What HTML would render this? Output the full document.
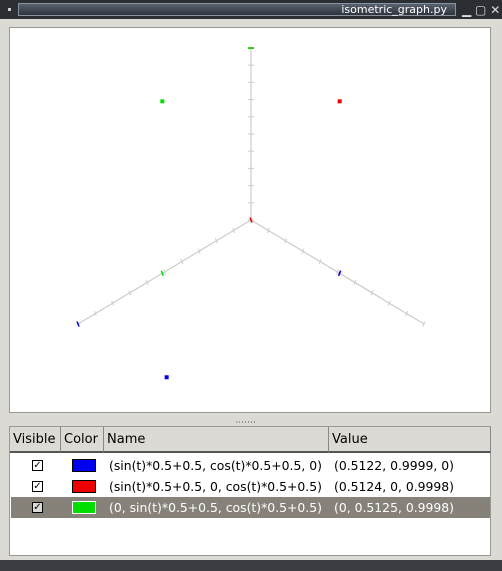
<!DOCTYPE html>
<html><head><meta charset="utf-8"><style>
body{margin:0;width:502px;height:571px;overflow:hidden;background:#dcdad5;font-family:"DejaVu Sans","Liberation Sans",sans-serif;position:relative}
.abs{position:absolute}
#title{left:0;top:0;width:502px;height:19px;background:#2b2e33}
#titlebar{left:18px;top:3px;width:438px;height:13px;background:linear-gradient(#5a6270,#2e333b);border:1px solid #8a93a0;box-sizing:border-box;color:#fff;font-size:11px;text-align:right;line-height:11px;padding-right:8px}
#plot{left:9px;top:27px;width:482px;height:386px;background:#fff;border:1px solid #9a9893;box-sizing:border-box}
#table{left:9px;top:426px;width:482px;height:130px;background:#fff;border:1px solid #9a9893;box-sizing:border-box}
.hd{top:0;height:26px;background:#dcdad5;border-right:1px solid #888;border-bottom:2px solid #555;box-sizing:border-box;font-size:13px;line-height:26px;padding-left:3px}
.row{left:1px;width:479px;height:21px;font-size:12.4px;line-height:21px}
.cb{left:21px;top:5px;width:11px;height:11px;border:1px solid #000;background:#fff;color:#000;font-size:10px;line-height:10px;text-align:center;box-sizing:border-box}
.sw{left:61px;top:4px;width:24px;height:13px;border:1px solid #000;box-sizing:border-box}
#bottom{left:0;top:560px;width:502px;height:11px;background:#3a3d42}
</style></head><body>
<div id="title" class="abs">
<div class="abs" style="left:8px;top:8px;width:3px;height:3px;background:#ccc"></div>
<div id="titlebar" class="abs">isometric_graph.py</div>
<div class="abs" style="left:462px;top:4px;color:#ddd;font-size:12px;line-height:12px">▁ ▢ ✕</div>
</div>
<div id="plot" class="abs">
<svg id="svg" width="482" height="386" style="position:absolute;left:-1px;top:-1px"></svg>
</div>
<div class="abs" style="left:236px;top:416px;font-size:7px;color:#333;letter-spacing:1px">ˌˌˌˌˌˌˌ</div>
<div id="table" class="abs">
<div class="abs hd" style="left:0;width:51px">Visible</div>
<div class="abs hd" style="left:51px;width:43px">Color</div>
<div class="abs hd" style="left:94px;width:225px">Name</div>
<div class="abs hd" style="left:319px;width:162px">Value</div>
<div id="rows"></div>
</div>
<div id="bottom" class="abs"></div>
<script>
const names=["(sin(t)*0.5+0.5, cos(t)*0.5+0.5, 0)","(sin(t)*0.5+0.5, 0, cos(t)*0.5+0.5)","(0, sin(t)*0.5+0.5, cos(t)*0.5+0.5)"];
const colors=["#0000ee","#ee0000","#00dd00"];
const xs=[0.5122,0.5124,0];
const ys=[0.9999,0,0.5125];
const zs=[0,0.9998,0.9998];
const valueLabels=["(0.5122, 0.9999, 0)","(0.5124, 0, 0.9998)","(0, 0.5125, 0.9998)"];
const ticks=[0,0.1,0.2,0.3,0.4,0.5,0.6,0.7,0.8,0.9,1];
const NS="http://www.w3.org/2000/svg";
const svg=document.getElementById('svg');
const O=[242,193];
const EX=[173,104],EY=[-173,104],EZ=[0,-172];
function proj(x,y,z){return [O[0]+x*EX[0]+y*EY[0]+z*EZ[0],O[1]+x*EX[1]+y*EY[1]+z*EZ[1]];}
function line(a,b,c,w,n){const l=document.createElementNS(NS,'line');l.setAttribute('x1',a[0]);l.setAttribute('y1',a[1]);l.setAttribute('x2',b[0]);l.setAttribute('y2',b[1]);l.setAttribute('stroke',c);l.setAttribute('stroke-width',w);


svg.appendChild(l);}
const axes=[[1,0,0,'x'],[0,1,0,'y'],[0,0,1,'z']];
axes.forEach(a=>{
 line(proj(0,0,0),proj(a[0],a[1],a[2]),'#cccccc',1.2,a[3]+'-axis');
 ticks.forEach(t=>{const p=proj(a[0]*t,a[1]*t,a[2]*t);
  let d=a[3]=='z'?[3,0]:(a[3]=='x'?[1,-2.5]:[1,2.5]);
  line([p[0]-d[0],p[1]-d[1]],[p[0]+d[0],p[1]+d[1]],'#cccccc',1,a[3]+'-tick');});
});
function marker(p,c,d,n){line([p[0]-d[0],p[1]-d[1]],[p[0]+d[0],p[1]+d[1]],c,1.5,n);}
[1,2,0].forEach(i=>{
 const p=proj(xs[i],ys[i],zs[i]);
 const r=document.createElementNS(NS,'rect');r.setAttribute('x',p[0]-2);r.setAttribute('y',p[1]-2);r.setAttribute('width',4);r.setAttribute('height',4);r.setAttribute('fill',colors[i]);
 
 
 svg.appendChild(r);
 if(xs[i]>0) marker(proj(xs[i],0,0),colors[i],[1,-2.5],'x-marker-'+(i+1));
 marker(proj(0,ys[i],0),colors[i],[1,2.5],'y-marker-'+(i+1));
 if(zs[i]>0) marker(proj(0,0,zs[i]),colors[i],[3,0],'z-marker-'+(i+1));
});
const rows=document.getElementById('rows');
for(let i=0;i<3;i++){
 const sel=i==2;
 const d=document.createElement('div');d.className='abs row';d.style.top=(28+i*21)+'px';
 if(sel){d.style.background='#868279';d.style.color='#fff';}
 
 
 d.innerHTML='<div class="abs cb" style="'+(sel?'background:#dcdad5':'')+'">✓</div>'+
 '<div class="abs sw" style="background:'+colors[i]+(sel?';border-color:#fff':'')+'"></div>'+
 '<div class="abs" style="left:98px;white-space:nowrap">'+names[i]+'</div>'+
 '<div class="abs" style="left:323px;white-space:nowrap">'+valueLabels[i]+'</div>';
 rows.appendChild(d);
}
</script>
</body></html>
